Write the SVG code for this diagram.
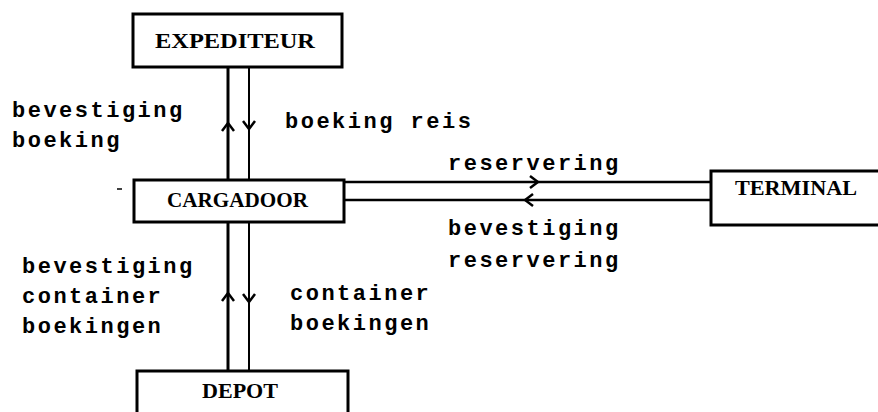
<svg xmlns="http://www.w3.org/2000/svg" width="878" height="412" viewBox="0 0 878 412">
<style>
.box{fill:#fff;stroke:#000;stroke-width:3}
.name{font-family:"Liberation Serif","DejaVu Serif",serif;font-size:21px;font-weight:bold;fill:#000;text-anchor:start}
.lbl{font-family:"Liberation Mono","DejaVu Sans Mono",monospace;font-size:22px;font-weight:bold;letter-spacing:2.5px;fill:#000}
.ln{fill:none;stroke:#000;stroke-width:2}
.thick{stroke-width:3}
.mid{stroke-width:2.5}
</style>
<defs>
<marker id="chev" viewBox="0 0 10 14" refX="9" refY="7" markerUnits="userSpaceOnUse" markerWidth="10" markerHeight="14" orient="auto">
<path d="M1,1 L9,7 L1,13" fill="none" stroke="#000" stroke-width="2.5"/>
</marker>
</defs>
<rect width="878" height="412" fill="#fff"/>
<g id="connectors">
<path class="ln thick" d="M228,180 L228,123 L228,67" marker-mid="url(#chev)"/>
<path class="ln" d="M249,67 L249,129 L249,180" marker-mid="url(#chev)"/>
<path class="ln thick" d="M228,371 L228,293 L228,222" marker-mid="url(#chev)"/>
<path class="ln" d="M249,222 L249,302 L249,371" marker-mid="url(#chev)"/>
<path class="ln mid" d="M344,182 L538,182 L711,182" marker-mid="url(#chev)"/>
<path class="ln mid" d="M711,200 L525,200 L344,200" marker-mid="url(#chev)"/>
</g>
<g id="expediteur">
<rect class="box" x="133" y="14" width="209" height="53"/>
<text class="name" x="155" y="48" textLength="160" lengthAdjust="spacingAndGlyphs">EXPEDITEUR</text>
</g>
<g id="cargadoor">
<rect class="box" x="134" y="180" width="210" height="42"/>
<text class="name" x="167" y="207" textLength="141" lengthAdjust="spacingAndGlyphs">CARGADOOR</text>
</g>
<g id="terminal">
<rect class="box" x="711" y="171" width="200" height="54"/>
<text class="name" x="735" y="195" textLength="122" lengthAdjust="spacingAndGlyphs">TERMINAL</text>
</g>
<g id="depot">
<rect class="box" x="137" y="371" width="211" height="60"/>
<text class="name" x="202" y="398" textLength="76" lengthAdjust="spacingAndGlyphs">DEPOT</text>
</g>
<g id="labels">
<text class="lbl" x="12" y="117">bevestiging</text>
<text class="lbl" x="12" y="147">boeking</text>
<text class="lbl" x="285" y="128">boeking reis</text>
<text class="lbl" x="448" y="170">reservering</text>
<text class="lbl" x="448" y="235">bevestiging</text>
<text class="lbl" x="448" y="267">reservering</text>
<text class="lbl" x="22" y="273">bevestiging</text>
<text class="lbl" x="22" y="303">container</text>
<text class="lbl" x="22" y="333">boekingen</text>
<text class="lbl" x="290" y="300">container</text>
<text class="lbl" x="290" y="330">boekingen</text>
</g>
<line x1="117" y1="189" x2="122" y2="189" stroke="#000" stroke-width="1.5"/>
</svg>
